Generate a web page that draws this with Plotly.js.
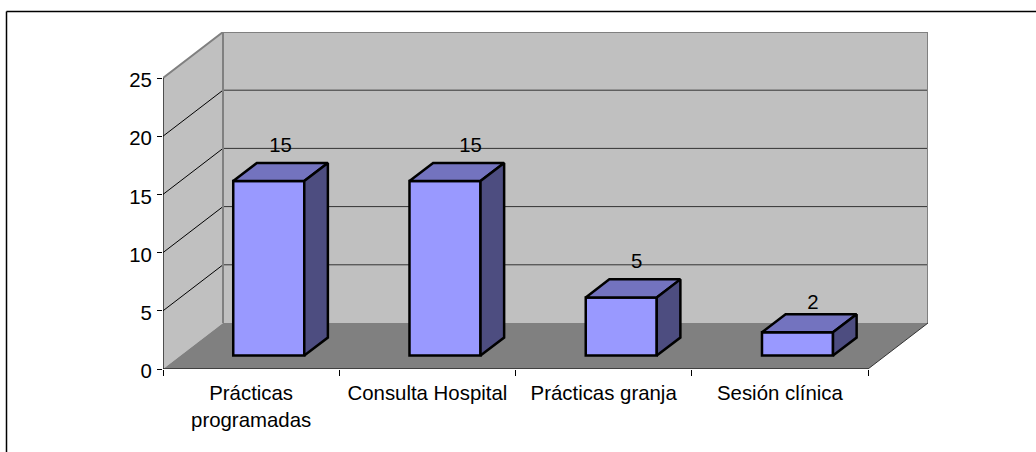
<!DOCTYPE html>
<html><head><meta charset="utf-8">
<script src="https://cdn.plot.ly/plotly-3.0.1.min.js"></script>
<style>html,body{margin:0;padding:0;background:#fff}#c{width:1036px;height:452px}</style>
</head><body><div id="c"></div>
<script>
const categories = ["Prácticas<br>programadas", "Consulta Hospital", "Prácticas granja", "Sesión clínica"];
const values = [15, 15, 5, 2];
const yTicks = [0, 5, 10, 15, 20, 25];
const W = 1036, H = 452;
const L = 163, R = 928, T = 32, B = 369;
const pxX = 176.25, pxY = 11.64;
const xMax = (R - L) / pxX, yMax = (B - T) / pxY, n = categories.length, yTop = 25;
const wallDx = xMax - n, wallDy = yMax - yTop;           // perspective offset of the back wall
const barW = 0.403, barShift = 0.1, barBase = 1.15;
const barDx = 0.134, barDy = 1.55;
const labelNudgeX = [0, 0.078, 0.021, 0.021], labelNudgeY = [0.5, 0.5, 0.5, 0];
const xs = categories.map((_, i) => i + 0.5 + barShift);
const poly = pts => 'M' + pts.map(p => p[0] + ',' + p[1]).join('L') + 'Z';
const fillShape = (pts, c) => ({type:'path', layer:'below', xref:'x', yref:'y', path:poly(pts), fillcolor:c, line:{width:0}});
const lineShape = (x0,y0,x1,y1,c,w) => ({type:'line', layer:'below', xref:'x', yref:'y', x0,y0,x1,y1, line:{color:c,width:w}});
const shapes = [
  fillShape([[0,0],[0,yTop],[wallDx,yMax],[wallDx,wallDy]], '#c0c0c0'),
  fillShape([[wallDx,wallDy],[wallDx,yMax],[xMax,yMax],[xMax,wallDy]], '#c0c0c0'),
  fillShape([[0,0],[wallDx,wallDy],[xMax,wallDy],[n,0]], '#808080')
];
yTicks.slice(1).forEach(v => {
  if (v < yTop) shapes.push(lineShape(0,v,wallDx,v+wallDy,'#000',1), lineShape(wallDx,v+wallDy,xMax,v+wallDy,'#333',1));
});
const px = v => (v - L) / (R - L), py = v => (B - v) / (B - T);
[[6.5,11.5,6.5,H],[6.5,11.5,W,11.5]].forEach(s => shapes.push({type:'line', xref:'paper', yref:'paper', layer:'above',
  x0:px(s[0]), y0:py(s[1]), x1:px(s[2]), y1:py(s[3]), line:{color:'#000', width:1.5}}));

const edge = (x, y, c, w) => ({type:'scatter', mode:'lines', x, y, line:{color:c, width:w}, cliponaxis:false, hoverinfo:'skip', showlegend:false});
const traces = [{
  type:'bar', x:xs, y:values, base:values.map(()=>barBase), width:barW, cliponaxis:false,
  marker:{color:'#9999ff', line:{color:'#000', width:2.5}}, hoverinfo:'skip', showlegend:false
}];
// top and side faces of each bar, projected from its value
values.forEach((v,i) => {
  const x0 = xs[i]-barW/2, x1 = xs[i]+barW/2, b = barBase, t = barBase+v;
  const face = (pts, c) => ({type:'scatter', mode:'lines', x:pts.map(p=>p[0]).concat(pts[0][0]), y:pts.map(p=>p[1]).concat(pts[0][1]),
    fill:'toself', fillcolor:c, line:{color:'#000', width:2.5}, cliponaxis:false, hoverinfo:'skip', showlegend:false});
  traces.push(face([[x0,t],[x0+barDx,t+barDy],[x1+barDx,t+barDy],[x1,t]], '#7373bf'));
  traces.push(face([[x1,t],[x1+barDx,t+barDy],[x1+barDx,b+barDy],[x1,b]], '#4d4d80'));
});
traces.push(
  edge([0,wallDx,xMax,xMax],[yTop,yMax,yMax,wallDy],'#808080',2),
  edge([wallDx,wallDx],[yMax,wallDy],'#808080',2),
  edge([xMax,n],[wallDy,0],'#333',1),
  edge([0,0],[yTop,0],'#000',1.2),
  edge([0,n],[0,0],'#000',1.2)
);
traces.push({type:'scatter', mode:'text', x:xs.map((x,i)=>x+barDx/2+labelNudgeX[i]), y:values.map((v,i)=>v+barBase+barDy+labelNudgeY[i]),
  text:values.map(String), textposition:'top center', textfont:{family:'"Liberation Sans",Arial,sans-serif', size:20.4, color:'#000'},
  cliponaxis:false, hoverinfo:'skip', showlegend:false});

Plotly.newPlot('c', traces, {
  width:W, height:H, paper_bgcolor:'#fff', plot_bgcolor:'rgba(0,0,0,0)', showlegend:false,
  margin:{l:L, r:W-R, t:T, b:H-B, pad:0},
  font:{family:'"Liberation Sans",Arial,sans-serif', size:20.4, color:'#000'},
  xaxis:{range:[0,xMax], showgrid:false, zeroline:false, showline:false,
    tickmode:'array', tickvals:categories.map((_,i)=>i+0.5), ticktext:categories, ticks:'', ticklabelstandoff:10,
    tickangle:0, minor:{tickmode:'array', tickvals:[0,1,2,3,4], ticks:'outside', ticklen:6, tickcolor:'#000', tickwidth:1}},
  yaxis:{range:[0,yMax], showgrid:false, zeroline:false, showline:false,
    tickmode:'array', tickvals:yTicks, ticks:'outside', ticklen:5, tickcolor:'#000', tickwidth:1, ticklabelstandoff:1, ticklabelshift:2},
  shapes
}, {displayModeBar:false, staticPlot:true});
</script></body></html>
